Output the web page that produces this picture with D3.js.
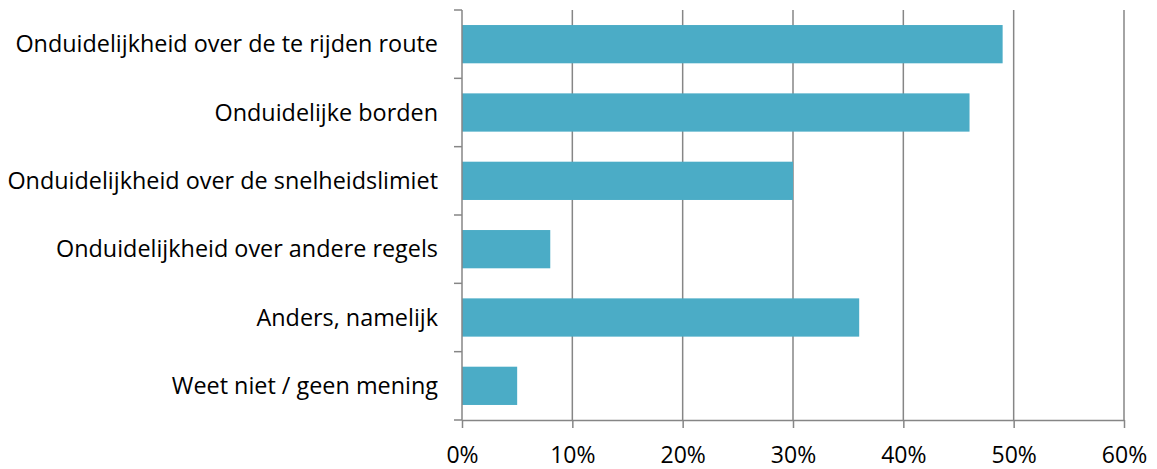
<!DOCTYPE html>
<html>
<head>
<meta charset="utf-8">
<script src="https://cdn.jsdelivr.net/npm/d3@7"></script>
<style>
  body { margin: 0; background: #fff; }
  svg text { font-family: "Open Sans", sans-serif; fill: #000; }
</style>
</head>
<body>
<div id="chart"></div>
<script>
// chart size
const width = 1157;
const height = 469;
const margin = {left: 462, right: 33, top: 10, bottom: 49};

// data
const categories = [
  "Onduidelijkheid over de te rijden route",
  "Onduidelijke borden",
  "Onduidelijkheid over de snelheidslimiet",
  "Onduidelijkheid over andere regels",
  "Anders, namelijk",
  "Weet niet / geen mening"
];
const values = [49, 46, 30, 8, 36, 5];
const xTicks = [0, 10, 20, 30, 40, 50, 60];

const svg = d3.select("#chart")
  .append("svg")
  .attr("width", width)
  .attr("height", height);

const x = d3.scaleLinear()
  .domain([0, 60])
  .range([margin.left, width - margin.right]);

const y = d3.scaleBand()
  .domain(categories)
  .range([margin.top, height - margin.bottom])
  .paddingInner(0.44)
  .paddingOuter(0.22);

const axisColor = "#868686";

// vertical gridlines
svg.append("g")
  .selectAll("line")
  .data(xTicks.slice(1))
  .enter()
  .append("line")
  .attr("x1", d => x(d))
  .attr("x2", d => x(d))
  .attr("y1", margin.top)
  .attr("y2", height - margin.bottom)
  .attr("stroke", axisColor)
  .attr("stroke-width", 1.5);

// bars
svg.selectAll(".bar")
  .data(values)
  .enter()
  .append("rect")
  .attr("class", "bar")
  .attr("x", x(0))
  .attr("y", (d, i) => y(categories[i]))
  .attr("width", d => x(d) - x(0))
  .attr("height", y.bandwidth())
  .attr("fill", "#4BACC6");

// x axis
const xAxis = svg.append("g")
  .attr("transform", `translate(0,${height - margin.bottom})`)
  .call(d3.axisBottom(x)
    .tickValues(xTicks)
    .tickFormat(d => d + "%")
    .tickSize(8)
    .tickPadding(19)
    .tickSizeOuter(0));
xAxis.select(".domain").attr("stroke", axisColor).attr("stroke-width", 1.5);
xAxis.selectAll(".tick line").attr("stroke", axisColor).attr("stroke-width", 1.5);
xAxis.selectAll("text").attr("font-size", "23px").attr("font-family", "'Open Sans', sans-serif").attr("fill", "#000");

// y axis: tick marks sit between categories
const yAxisG = svg.append("g");
yAxisG.append("line")
  .attr("x1", x(0)).attr("x2", x(0))
  .attr("y1", margin.top).attr("y2", height - margin.bottom)
  .attr("stroke", axisColor).attr("stroke-width", 1.5);
const boundaries = d3.range(categories.length + 1).map(i => margin.top + i * (height - margin.top - margin.bottom) / categories.length);
yAxisG.selectAll(".ytick")
  .data(boundaries)
  .enter()
  .append("line")
  .attr("x1", x(0) - 8).attr("x2", x(0))
  .attr("y1", d => d).attr("y2", d => d)
  .attr("stroke", axisColor).attr("stroke-width", 1.5);

yAxisG.selectAll(".ylabel")
  .data(categories)
  .enter()
  .append("text")
  .attr("x", x(0) - 24)
  .attr("y", d => y(d) + y.bandwidth() / 2)
  .attr("dy", "0.35em")
  .attr("text-anchor", "end")
  .attr("font-size", "23.4px")
  .text(d => d);
</script>
</body>
</html>
